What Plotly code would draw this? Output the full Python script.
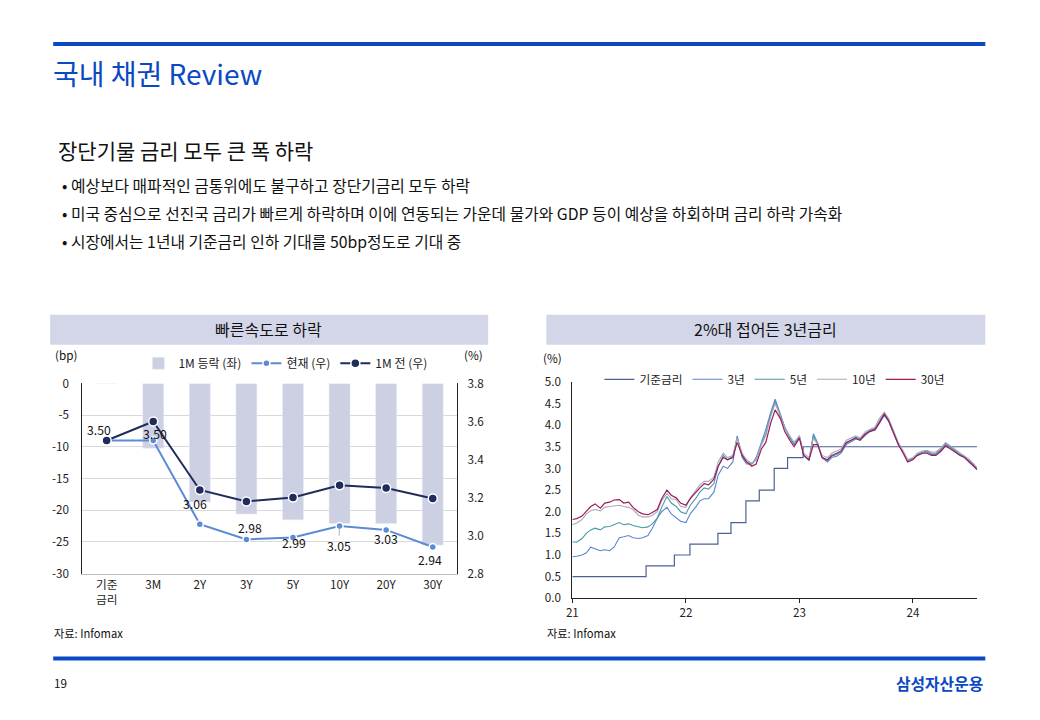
import plotly.graph_objects as go

W, H = 1040, 720
FONT = "Noto Sans CJK KR"
BLUE = "#0b49c4"

# ---------------- Left chart data ----------------
categories = ["기준<br>금리", "3M", "2Y", "3Y", "5Y", "10Y", "20Y", "30Y"]
change_bp = [0, -10.2, -18.7, -20.6, -21.5, -22.1, -22.1, -25.5]
current = [3.50, 3.50, 3.06, 2.98, 2.99, 3.05, 3.03, 2.94]
month_ago = [3.50, 3.60, 3.24, 3.18, 3.20, 3.265, 3.25, 3.195]
left_yticks = [0, -5, -10, -15, -20, -25, -30]
left_yticktext = ["0", "-5", "-10", "-15", "-20", "-25", "-30"]
right_yticks = [3.8, 3.6, 3.4, 3.2, 3.0, 2.8]

# ---------------- Right chart data ----------------
dates = [
    "2021-01-01", "2021-01-15", "2021-02-01", "2021-02-15", "2021-03-01", "2021-03-15",
    "2021-04-01", "2021-04-15", "2021-05-01", "2021-05-15", "2021-06-01", "2021-06-15",
    "2021-07-01", "2021-07-15", "2021-08-01", "2021-08-15", "2021-09-01", "2021-09-15",
    "2021-10-01", "2021-10-15", "2021-11-01", "2021-11-15", "2021-12-01", "2021-12-15",
    "2022-01-01", "2022-01-15", "2022-02-01", "2022-02-15", "2022-03-01", "2022-03-15",
    "2022-04-01", "2022-04-15", "2022-05-01", "2022-05-15", "2022-06-01", "2022-06-15",
    "2022-07-01", "2022-07-15", "2022-08-01", "2022-08-15", "2022-09-01", "2022-09-15",
    "2022-10-01", "2022-10-15", "2022-11-01", "2022-11-15", "2022-12-01", "2022-12-15",
    "2023-01-01", "2023-01-15", "2023-02-01", "2023-02-15", "2023-03-01", "2023-03-15",
    "2023-04-01", "2023-04-15", "2023-05-01", "2023-05-15", "2023-06-01", "2023-06-15",
    "2023-07-01", "2023-07-15", "2023-08-01", "2023-08-15", "2023-09-01", "2023-09-15",
    "2023-10-01", "2023-10-15", "2023-11-01", "2023-11-15", "2023-12-01", "2023-12-15",
    "2024-01-01", "2024-01-15", "2024-02-01", "2024-02-15", "2024-03-01", "2024-03-15",
    "2024-04-01", "2024-04-15", "2024-05-01", "2024-05-15", "2024-06-01", "2024-06-15",
    "2024-07-01", "2024-07-15", "2024-07-25",
]
y3 = [
    0.96, 0.97, 1.00, 1.05, 1.18, 1.15, 1.10, 1.12, 1.10, 1.18, 1.40, 1.42,
    1.45, 1.40, 1.38, 1.40, 1.45, 1.62, 1.85, 2.00, 2.10, 1.95, 1.85, 1.78,
    1.75, 1.95, 2.10, 2.25, 2.30, 2.30, 2.45, 2.85, 3.05, 3.00, 3.15, 3.75,
    3.25, 3.10, 3.10, 3.25, 3.60, 3.90, 4.30, 4.60, 4.25, 3.95, 3.70, 3.55,
    3.75, 3.30, 3.18, 3.80, 3.58, 3.25, 3.15, 3.25, 3.28, 3.35, 3.55, 3.62,
    3.68, 3.65, 3.75, 3.85, 3.88, 4.05, 4.22, 4.08, 3.80, 3.55, 3.35, 3.20,
    3.22, 3.30, 3.35, 3.38, 3.32, 3.32, 3.42, 3.55, 3.48, 3.40, 3.30, 3.25,
    3.15, 3.05, 2.98,
]
y5 = [
    1.30, 1.30, 1.38, 1.50, 1.58, 1.62, 1.58, 1.65, 1.66, 1.70, 1.75, 1.70,
    1.72, 1.68, 1.65, 1.63, 1.65, 1.72, 1.85, 2.10, 2.35, 2.20, 2.12, 2.00,
    1.95, 2.15, 2.30, 2.45, 2.55, 2.52, 2.65, 3.05, 3.30, 3.20, 3.28, 3.72,
    3.30, 3.15, 3.10, 3.20, 3.55, 3.80, 4.25, 4.55, 4.20, 3.95, 3.72, 3.55,
    3.72, 3.30, 3.20, 3.75, 3.55, 3.25, 3.18, 3.28, 3.32, 3.38, 3.58, 3.65,
    3.72, 3.68, 3.80, 3.88, 3.92, 4.10, 4.28, 4.12, 3.82, 3.58, 3.38, 3.18,
    3.22, 3.32, 3.38, 3.40, 3.35, 3.35, 3.45, 3.58, 3.50, 3.42, 3.32, 3.28,
    3.18, 3.08, 3.00,
]
y10 = [
    1.70, 1.74, 1.82, 1.95, 2.02, 2.05, 2.02, 2.10, 2.12, 2.13, 2.15, 2.12,
    2.10, 2.05, 1.92, 1.88, 1.88, 1.92, 2.00, 2.25, 2.42, 2.30, 2.28, 2.12,
    2.10, 2.32, 2.50, 2.62, 2.70, 2.70, 2.80, 3.15, 3.35, 3.25, 3.30, 3.70,
    3.35, 3.20, 3.12, 3.20, 3.55, 3.75, 4.20, 4.50, 4.20, 3.95, 3.75, 3.60,
    3.75, 3.35, 3.25, 3.70, 3.55, 3.30, 3.25, 3.35, 3.40, 3.45, 3.65, 3.70,
    3.75, 3.70, 3.85, 3.90, 3.95, 4.15, 4.30, 4.15, 3.85, 3.60, 3.40, 3.20,
    3.25, 3.35, 3.40, 3.42, 3.38, 3.38, 3.48, 3.60, 3.52, 3.45, 3.35, 3.30,
    3.20, 3.10, 3.02,
]
y30 = [
    1.82, 1.84, 1.90, 2.02, 2.12, 2.18, 2.08, 2.20, 2.22, 2.27, 2.28, 2.20,
    2.22, 2.10, 2.00, 1.95, 1.93, 1.98, 2.05, 2.30, 2.50, 2.38, 2.32, 2.20,
    2.15, 2.30, 2.45, 2.55, 2.65, 2.62, 2.75, 3.05, 3.25, 3.20, 3.25, 3.60,
    3.30, 3.15, 3.05, 3.10, 3.45, 3.60, 4.05, 4.35, 4.15, 3.85, 3.65, 3.50,
    3.70, 3.30, 3.20, 3.55, 3.55, 3.25, 3.20, 3.30, 3.35, 3.40, 3.60, 3.65,
    3.70, 3.65, 3.80, 3.85, 3.90, 4.05, 4.25, 4.10, 3.80, 3.55, 3.35, 3.15,
    3.20, 3.30, 3.35, 3.35, 3.30, 3.30, 3.40, 3.52, 3.45, 3.38, 3.30, 3.25,
    3.15, 3.05, 2.97,
]
base_dates = ["2021-01-01", "2021-08-26", "2021-11-25", "2022-01-14", "2022-04-14",
              "2022-05-26", "2022-07-13", "2022-08-25", "2022-10-12", "2022-11-24",
              "2023-01-13", "2024-07-25"]
base_rate = [0.50, 0.75, 1.00, 1.25, 1.50, 1.75, 2.25, 2.50, 3.00, 3.25, 3.50, 3.50]
year_ticks = ["2021-01-01", "2022-01-01", "2023-01-01", "2024-01-01"]
year_labels = ["21", "22", "23", "24"]

# screen position -> paper fraction (the page shows the figure with a small
# offset and a slight scale, measured from the rendered output)
SX, OX = 0.992, 7.9
SY, OY = 0.977, 8.0


def px(x):
    return ((x - OX) / SX) / W


def py(y):
    return 1 - ((y - OY) / SY) / H


fig = go.Figure()

# ---- left chart traces ----
fig.add_trace(go.Bar(
    x=categories, y=change_bp, name="1M 등락 (좌)", marker_color="#cdd0e3",
    width=0.45, xaxis="x", yaxis="y", legend="legend",
))
fig.add_trace(go.Scatter(
    x=categories, y=current, name="현재 (우)", mode="lines+markers",
    line=dict(color="#5b8bd6", width=2),
    marker=dict(size=7, color="#5b8bd6", line=dict(color="white", width=1.5)),
    xaxis="x", yaxis="y2", legend="legend",
))
fig.add_trace(go.Scatter(
    x=categories, y=month_ago, name="1M 전 (우)", mode="lines+markers",
    line=dict(color="#1f2c5c", width=2),
    marker=dict(size=9, color="#1f2c5c", line=dict(color="white", width=1.5)),
    xaxis="x", yaxis="y2", legend="legend",
))

# ---- right chart traces ----
fig.add_trace(go.Scatter(x=base_dates, y=base_rate, name="기준금리", mode="lines",
                         line=dict(color="#4a6290", width=1.2, shape="hv"),
                         xaxis="x3", yaxis="y3", legend="legend2"))
fig.add_trace(go.Scatter(x=dates, y=y3, name="3년", mode="lines",
                         line=dict(color="#5b84d2", width=1.1),
                         xaxis="x3", yaxis="y3", legend="legend2"))
fig.add_trace(go.Scatter(x=dates, y=y5, name="5년", mode="lines",
                         line=dict(color="#4b97a6", width=1.1),
                         xaxis="x3", yaxis="y3", legend="legend2"))
fig.add_trace(go.Scatter(x=dates, y=y10, name="10년", mode="lines",
                         line=dict(color="#a8a9bb", width=1.1),
                         xaxis="x3", yaxis="y3", legend="legend2"))
fig.add_trace(go.Scatter(x=dates, y=y30, name="30년", mode="lines",
                         line=dict(color="#a01a58", width=1.2),
                         xaxis="x3", yaxis="y3", legend="legend2"))

tickfont = dict(family=FONT, size=11.7, color="#222")

fig.update_layout(
    width=W, height=H, margin=dict(l=0, r=0, t=0, b=0),
    paper_bgcolor="white", plot_bgcolor="white",
    font=dict(family=FONT, color="#222"),
    showlegend=True,
    xaxis=dict(domain=[px(84), px(458)], type="category", tickfont=tickfont,
               showline=True, linecolor="#bfbfbf", ticks="", anchor="y"),
    yaxis=dict(domain=[py(572), py(381.7)], range=[-30, 0], tickvals=left_yticks,
               ticktext=left_yticktext, ticklabelstandoff=10,
               tickfont=tickfont, showgrid=True, gridcolor="#d9d9d9", zeroline=False,
               showline=True, linecolor="#222", ticks="", anchor="x"),
    yaxis2=dict(overlaying="y", side="right", range=[2.8, 3.8], tickvals=right_yticks,
                tickformat=".1f", tickfont=tickfont, showgrid=False, zeroline=False,
                ticklabelstandoff=7,
                showline=True, linecolor="#222", anchor="x"),
    xaxis3=dict(domain=[px(573), px(977)], type="date",
                range=["2021-01-01", "2024-07-26"], tickvals=year_ticks,
                ticktext=year_labels, tickfont=tickfont, showgrid=False,
                showline=True, linecolor="#222", ticks="outside", ticklen=4,
                tickcolor="#222", anchor="y3"),
    yaxis3=dict(domain=[py(596.7), py(380)], range=[0, 5], dtick=0.5, tickformat=".1f",
                tickfont=tickfont, showgrid=False, zeroline=False, showline=True,
                ticklabelstandoff=8,
                linecolor="#222", ticks="", anchor="x3"),
    legend=dict(orientation="h", x=px(140), y=py(347), xanchor="left", yanchor="top",
                font=dict(family=FONT, size=12), bgcolor="rgba(0,0,0,0)",
                itemwidth=30, tracegroupgap=0),
    legend2=dict(orientation="h", x=px(600), y=py(363), xanchor="left", yanchor="top",
                 font=dict(family=FONT, size=11.7), bgcolor="rgba(0,0,0,0)",
                 itemwidth=30),
)

shapes = [
    dict(type="rect", xref="paper", yref="paper", x0=px(55), x1=px(985), y0=py(44), y1=py(40),
         fillcolor=BLUE, line=dict(width=0)),
    dict(type="rect", xref="paper", yref="paper", x0=px(55), x1=px(985), y0=py(659), y1=py(655),
         fillcolor=BLUE, line=dict(width=0)),
    dict(type="rect", xref="paper", yref="paper", x0=px(52), x1=px(489), y0=py(343), y1=py(313),
         fillcolor="#d3d6e8", line=dict(width=0), layer="below"),
    dict(type="rect", xref="paper", yref="paper", x0=px(547), x1=px(985), y0=py(343), y1=py(313),
         fillcolor="#d3d6e8", line=dict(width=0), layer="below"),
]
fig.update_layout(shapes=shapes)

ann = []


def text(x, y, s, size, color="#111", anchor="left", weight="normal"):
    ann.append(dict(xref="paper", yref="paper", x=px(x), y=py(y), text=s, showarrow=False,
                    xanchor=anchor, yanchor="middle",
                    font=dict(family=FONT, size=size, color=color, weight=weight)))


text(53, 71, "국내 채권 Review", 28, BLUE)
text(58, 148, "장단기물 금리 모두 큰 폭 하락", 21, "#111")
text(62, 184, "• 예상보다 매파적인 금통위에도 불구하고 장단기금리 모두 하락", 15.8)
text(62, 212, "• 미국 중심으로 선진국 금리가 빠르게 하락하며 이에 연동되는 가운데 물가와 GDP 등이 예상을 하회하며 금리 하락 가속화", 15.8)
text(62, 240, "• 시장에서는 1년내 기준금리 인하 기대를 50bp정도로 기대 중", 15.8)
text(270, 327, "빠른속도로 하락", 16, "#111", "center")
text(766, 327, "2%대 접어든 3년금리", 16, "#111", "center")
text(55, 353, "(bp)", 11.7)
text(486, 353, "(%)", 11.7, anchor="right")
text(542, 356, "(%)", 11.7)
text(54, 631, "자료: Infomax", 11.2)
text(546, 631, "자료: Infomax", 11.2)
text(54, 681, "19", 11.7)
text(985, 682, "삼성자산운용", 15.8, BLUE, "right", "bold")

# data labels for the "current" series
label_dx = [-8, 2, -5, 4, 1, -1, 0, -3]
label_dy = [-11, -7, -20, -11, 5, 20, 9, 13]
for cat, val, dx, dy in zip(categories, current, label_dx, label_dy):
    leader = (cat == "10Y")
    ann.append(dict(xref="x", yref="y2", x=cat, y=val, text=f"{val:.2f}",
                    showarrow=True, ax=dx, ay=dy, arrowhead=0, arrowwidth=0.8,
                    arrowcolor="#9a9a9a" if leader else "rgba(0,0,0,0)",
                    font=dict(family=FONT, size=12.2, color="#111")))

fig.update_layout(annotations=ann)
fig.write_html("out.html")
